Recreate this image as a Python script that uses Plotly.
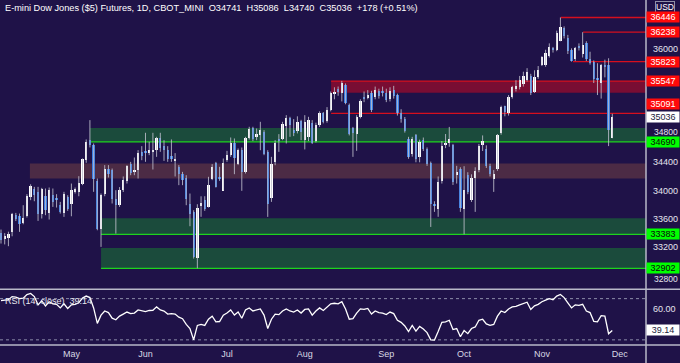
import plotly.graph_objects as go

# ---------------- data ----------------
opens = [
    33403, 33320, 33325, 33420, 33653, 33640, 33545, 33640, 33912, 34016,
    33983, 33667, 33921, 33686, 33935, 33888, 33803, 33686, 33912, 33818,
    33978, 33983, 34091, 34430, 34713, 34642, 34138, 33464, 33959, 34312,
    34289, 33888, 33794, 34006, 34138, 34374, 34270, 34298, 34548, 34557,
    34534, 34540, 34572, 34746, 34628, 34581, 34478, 34420, 34336, 34242,
    34185, 33818, 33700, 33054, 33780, 33865, 33770, 34171, 34393, 34185,
    34001, 34430, 34501, 34666, 34383, 34581, 34265, 34737, 34878, 34760,
    34784, 34831, 34548, 33902, 34407, 34722, 34736, 34911, 35033, 34845,
    34845, 34986, 34713, 34751, 34958, 34698, 34925, 35090, 34986, 35146,
    35373, 35430, 35373, 35491, 35208, 34878, 34798, 35043, 35316, 35302,
    35382, 35316, 35410, 35396, 35382, 35288, 35420, 35349, 35090, 35005,
    34736, 34524, 34784, 34477, 34722, 34595, 34393, 33808, 33747, 34138,
    34640, 34666, 34642, 34218, 34312, 33737, 34218, 33865, 34185, 34289,
    34650, 34595, 34345, 34171, 34300, 34808, 35194, 35091, 35326, 35430,
    35458, 35505, 35562, 35618, 35397, 35600, 35774, 35774, 35901, 36010,
    35986, 36118, 36292, 36151, 35986, 35854, 36043, 35929, 36090, 35854,
    35821, 35585, 35524, 35774, 35774, 34741,
]
highs = [
    33450, 33400, 33420, 33685, 33685, 33676, 33794, 33950, 34090, 34053,
    34053, 34039, 34030, 34044, 34030, 33950, 33841, 33983, 33935, 34100,
    34044, 34204, 34454, 34723, 34996, 34666, 34171, 33959, 34360, 34360,
    34312, 34006, 34050, 34200, 34360, 34406, 34468, 34572, 34628, 34817,
    34690, 34817, 34760, 34817, 34713, 34628, 34723, 34530, 34360, 34265,
    34218, 33959, 33723, 33808, 33920, 33921, 34195, 34374, 34406, 34336,
    34454, 34562, 34751, 34737, 34595, 34609, 34760, 34902, 34902, 34878,
    34972, 34854, 34571, 34477, 34713, 34798, 34972, 35066, 35043, 35010,
    35050, 35000, 35066, 35043, 34996, 34960, 35120, 35110, 35180, 35400,
    35460, 35470, 35550, 35514, 35230, 34900, 35066, 35290, 35400, 35420,
    35410, 35470, 35440, 35470, 35440, 35460, 35480, 35370, 35150, 35040,
    34760, 34760, 34800, 34720, 34750, 34610, 34410, 33850, 34200, 34700,
    34800, 34900, 34660, 34350, 34330, 34345, 34260, 34230, 34330, 34660,
    34780, 34640, 34380, 34290, 34800, 35200, 35200, 35350, 35480, 35560,
    35620, 35680, 35730, 35650, 35700, 35760, 35900, 35990, 36080, 36030,
    36260, 36446, 36320, 36200, 36010, 36030, 36080, 36238, 36110, 35962,
    35840, 35800, 35790, 35850, 35870, 35086,
]
lows = [
    33252, 33240, 33215, 33355, 33570, 33417, 33525, 33620, 33865, 33850,
    33572, 33606, 33653, 33592, 33770, 33761, 33676, 33629, 33714, 33638,
    33959, 33921, 34077, 34393, 34610, 33983, 33440, 33205, 33921, 34185,
    33818, 33393, 33770, 33980, 34100, 34218, 34218, 34171, 34430, 34407,
    34501, 34298, 34477, 34548, 34420, 34407, 34407, 34200, 34077, 34077,
    33794, 33497, 33040, 32902, 33630, 33714, 33761, 34148, 34044, 34138,
    34001, 34407, 34477, 34232, 34360, 33997, 34242, 34722, 34700, 34713,
    34571, 34501, 33629, 33841, 34359, 34548, 34713, 34666, 34760, 34770,
    34808, 34713, 34582, 34700, 34660, 34680, 34900, 34950, 34960, 35120,
    35290, 35340, 35260, 35220, 34780, 34477, 34562, 35020, 35250, 35290,
    35110, 35290, 35300, 35330, 35250, 35260, 35300, 35060, 34960, 34820,
    34450, 34480, 34400, 34400, 34560, 34350, 33487, 33700, 33630, 34100,
    34600, 34620, 34080, 34100, 33700, 33383, 33950, 33840, 33700, 34260,
    34560, 34320, 34200, 33982, 34280, 34790, 35050, 35060, 35300, 35400,
    35430, 35470, 35540, 35350, 35380, 35580, 35760, 35750, 35880, 35950,
    35970, 36110, 36150, 35930, 35823, 35830, 35980, 35880, 35830, 35780,
    35520, 35350, 35300, 35600, 34629, 34740,
]
closes = [
    33299, 33360, 33385, 33667, 33606, 33535, 33620, 33921, 34063, 33936,
    33676, 34016, 33723, 34006, 33841, 33865, 33700, 33959, 33738, 34006,
    34020, 34110, 34440, 34690, 34642, 34171, 33464, 33936, 34312, 34242,
    33888, 33794, 34006, 34157, 34345, 34251, 34290, 34534, 34487, 34525,
    34581, 34580, 34737, 34609, 34581, 34440, 34450, 34440, 34228, 34148,
    33888, 33667, 33063, 33761, 33830, 33747, 34086, 34327, 34053, 34160,
    34393, 34501, 34666, 34454, 34581, 34265, 34737, 34864, 34736, 34798,
    34854, 34524, 33817, 34383, 34675, 34703, 34939, 35033, 34925, 34817,
    34972, 34831, 34972, 34996, 34675, 34925, 35090, 34972, 35146, 35382,
    35396, 35396, 35524, 35241, 34798, 34808, 35043, 35269, 35288, 35349,
    35137, 35420, 35335, 35373, 35278, 35410, 35335, 35090, 35005, 34845,
    34477, 34736, 34440, 34689, 34595, 34383, 33817, 33790, 34124, 34628,
    34675, 34736, 34124, 34265, 33760, 34015, 33982, 34185, 34275, 34628,
    34700, 34345, 34242, 34242, 34780, 35175, 35114, 35326, 35458, 35477,
    35562, 35618, 35680, 35373, 35609, 35703, 35882, 35948, 36034, 35986,
    36231, 36307, 36184, 35977, 35830, 36010, 36024, 36057, 35854, 35798,
    35571, 35562, 35774, 35750, 34858, 35036,
]
rsi = [
    68, 68.5, 69, 72, 71.5, 70, 70.5, 74, 75, 72,
    64, 68, 63, 67, 65, 64.5, 61, 65, 60.5, 64,
    64.5, 66, 70.5, 72.5, 71, 61, 46, 54, 58, 56.5,
    51, 49.5, 53, 55, 57, 55.5, 56, 59, 58, 57.5,
    58.5, 58.7, 62, 59, 58, 55, 55.5, 55, 52, 50.5,
    45, 41, 30, 44, 45, 44, 50, 53, 47.5, 47.8,
    54, 56, 59, 54, 57, 51, 59, 61, 58, 59,
    60, 54, 41, 50, 55, 54.5, 58, 60, 58, 57,
    59, 56, 59.5, 60, 54, 58, 61, 58.5, 61.5, 65,
    65.5, 65, 67, 60, 50, 50.5, 56, 60, 59.5, 60.5,
    55, 58, 56.5, 56, 54.5, 57, 55.5, 49, 47, 43.5,
    38, 44, 38.5, 43, 40.5, 37, 30, 29.8, 38, 47,
    47.5, 49, 40, 41, 33, 39, 36, 41, 42.5, 49,
    50, 45.5, 44, 45, 53, 58, 56.5, 60, 62, 62.5,
    64, 65.5, 66.5, 59.5, 63, 64.5, 67, 68.5, 70, 69,
    72.5, 74, 71, 66, 61, 64, 63.5, 64.5, 58, 56.5,
    48, 47.5, 53.5, 53, 36, 39.14,
]

month_labels = ["May", "Jun", "Jul", "Aug", "Sep", "Oct", "Nov", "Dec"]
month_bars = [19, 39, 61, 82, 104, 125, 146, 167]
# axis labels left visible beside the price tags
price_ticks = [33200, 33600, 34000, 34400, 36000]
edge_ticks = [(34800, 2), (32800, -3)]   # (value, label nudge in px)

# zones: (low, high, start bar)
green_zones = [(34690, 34883, 24), (33383, 33610, 27), (32902, 33190, 27)]
brown_zone = (34171, 34383, 7.8)
red_zone = (35382, 35547, 89.1)
red_lines = [(36446, 151.1), (36238, 157.1), (35823, 154.4), (35091, 89.1)]

# price tag labels: (text, value, bg, fg, yshift)
price_tags = [
    ("36446", 36446, "#ff0a0a", "#ffffff", 0),
    ("36238", 36238, "#ff0a0a", "#ffffff", 0),
    ("35823", 35823, "#ff0a0a", "#ffffff", 0),
    ("35547", 35547, "#ff0a0a", "#ffffff", 0),
    ("35091", 35091, "#ff0a0a", "#ffffff", 9),
    ("35036", 35036, "#ffffff", "#1a1a3a", 0),
    ("34690", 34690, "#00ff00", "#0a0a0a", 0),
    ("33383", 33383, "#00ff00", "#0a0a0a", 0),
    ("32902", 32902, "#00ff00", "#0a0a0a", 0),
]
title_text = "E-mini Dow Jones ($5) Futures, 1D, CBOT_MINI  O34741  H35086  L34740  C35036  +178 (+0.51%)"

# ---------------- styling ----------------
BG = "#1f1248"
FONT = "Liberation Sans"
XMIN, XMAX = -0.27, 174.1
PMIN, PMAX = 32606, 36693
RMIN, RMAX = 25.0, 77.9
TICKC = "#e4e4ee"

n = len(closes)
idx = list(range(n))

fig = go.Figure()

# wicks
wx, wy = [], []
for i in idx:
    wx += [i, i, None]
    wy += [lows[i], highs[i], None]
fig.add_trace(go.Scatter(x=wx, y=wy, mode="lines",
                         line=dict(color="rgba(190,190,205,0.85)", width=1),
                         hoverinfo="skip", showlegend=False, xaxis="x", yaxis="y"))

up = [i for i in idx if closes[i] >= opens[i]]
dn = [i for i in idx if closes[i] < opens[i]]
fig.add_trace(go.Bar(x=up, base=[opens[i] for i in up],
                     y=[closes[i] - opens[i] for i in up],
                     width=0.62, marker=dict(color="#ffffff", line=dict(width=0)),
                     showlegend=False, xaxis="x", yaxis="y"))
fig.add_trace(go.Bar(x=dn, base=[opens[i] for i in dn],
                     y=[closes[i] - opens[i] for i in dn],
                     width=0.62, marker=dict(color="#3d7fe3", line=dict(width=0)),
                     showlegend=False, xaxis="x", yaxis="y"))

# RSI
fig.add_trace(go.Scatter(x=idx, y=rsi, mode="lines",
                         line=dict(color="#ffffff", width=1.3),
                         showlegend=False, xaxis="x", yaxis="y2"))

shapes = []
for lo, hi, start in green_zones:
    shapes.append(dict(type="rect", xref="x", yref="y", x0=start, x1=XMAX, y0=lo, y1=hi,
                       fillcolor="#1b4b3c", line=dict(width=0), layer="below"))
    shapes.append(dict(type="line", xref="x", yref="y", x0=start, x1=XMAX, y0=lo, y1=lo,
                       line=dict(color="#1ed41e", width=1.3), layer="below"))
shapes.append(dict(type="rect", xref="x", yref="y", x0=brown_zone[2], x1=XMAX,
                   y0=brown_zone[0], y1=brown_zone[1],
                   fillcolor="#4c2b45", line=dict(width=0), layer="below"))
shapes.append(dict(type="rect", xref="x", yref="y", x0=red_zone[2], x1=XMAX,
                   y0=red_zone[0], y1=red_zone[1],
                   fillcolor="#790d33", line=dict(width=0), layer="below"))
shapes.append(dict(type="line", xref="x", yref="y", x0=red_zone[2], x1=XMAX,
                   y0=red_zone[1], y1=red_zone[1],
                   line=dict(color="#d50f1e", width=1.3), layer="below"))
for lvl, start in red_lines:
    shapes.append(dict(type="line", xref="x", yref="y", x0=start, x1=XMAX, y0=lvl, y1=lvl,
                       line=dict(color="#d50f1e", width=1.3), layer="below"))
for lvl in (70, 30):
    shapes.append(dict(type="line", xref="paper", yref="y2", x0=0, x1=1, y0=lvl, y1=lvl,
                       line=dict(color="#8c8ca8", width=1, dash="3px,3px"), layer="below"))
GRID = "#b8b8c8"
for yv in (1 - 289.3 / 345, 0.0):
    shapes.append(dict(type="line", xref="paper", yref="paper", x0=0, x1=680 / 646,
                       y0=yv, y1=yv, line=dict(color=GRID, width=1.5)))
shapes.append(dict(type="line", xref="paper", yref="paper", x0=1, x1=1,
                   y0=-18 / 345, y1=1, line=dict(color=GRID, width=1.5)))

annotations = []
annotations.append(dict(text=title_text, xref="paper", yref="paper", x=0.004, y=1 - 8.3 / 345,
                        xanchor="left", yanchor="middle", showarrow=False,
                        font=dict(family=FONT, size=9.2, color="#ffffff")))
annotations.append(dict(text="RSI (14, close)  39.14", xref="paper", yref="paper",
                        x=0.004, y=1 - 300.7 / 345, xanchor="left", yanchor="middle",
                        showarrow=False, font=dict(family=FONT, size=9, color="#e8e8f0")))
annotations.append(dict(text="USD", xref="paper", yref="paper", x=1 + 9 / 646, y=1 - 7.2 / 345,
                        xanchor="left", yanchor="middle", showarrow=False,
                        bordercolor="#9090a8", borderwidth=1, borderpad=0,
                        font=dict(family=FONT, size=8.5, color="#ffffff")))
for val, nudge in edge_ticks:
    annotations.append(dict(text=str(val), xref="paper", yref="y", x=1 + 6 / 646, y=val,
                            yshift=nudge, xanchor="left", yanchor="middle", showarrow=False,
                            font=dict(family=FONT, size=8.5, color=TICKC)))
for txt, val, bg, fg, ys in price_tags:
    annotations.append(dict(text=txt, xref="paper", yref="y", x=1, y=val, yshift=ys,
                            xanchor="left", yanchor="middle", showarrow=False,
                            bgcolor=bg, width=32, height=10, borderpad=0,
                            font=dict(family=FONT, size=9, color=fg)))
annotations.append(dict(text="39.14", xref="paper", yref="y2", x=1, y=rsi[-1],
                        xanchor="left", yanchor="middle", showarrow=False,
                        bgcolor="#ffffff", width=32, height=10, borderpad=0,
                        font=dict(family=FONT, size=9, color="#1a1a3a")))

fig.update_layout(
    width=680, height=363,
    margin=dict(l=0, r=34, t=0, b=18),
    paper_bgcolor=BG, plot_bgcolor=BG,
    barmode="overlay", bargap=0,
    showlegend=False,
    shapes=shapes, annotations=annotations,
    xaxis=dict(range=[XMIN, XMAX], domain=[0, 1], anchor="y2",
               tickvals=month_bars, ticktext=month_labels, ticks="",
               showgrid=False, zeroline=False, showline=False, automargin=False,
               ticklabelstandoff=2,
               tickfont=dict(family=FONT, size=9, color="#d8d8e4")),
    yaxis=dict(range=[PMIN, PMAX], domain=[1 - 289.3 / 345, 1], anchor="x", side="right",
               tickvals=price_ticks, ticktext=[str(v) for v in price_ticks], ticks="",
               showgrid=False, zeroline=False, showline=False, automargin=False,
               ticklabelstandoff=6,
               tickfont=dict(family=FONT, size=9, color=TICKC)),
    yaxis2=dict(range=[RMIN, RMAX], domain=[0, 1 - 290.5 / 345], anchor="x", side="right",
                tickvals=[60], ticktext=["60.00"], ticks="",
                showgrid=False, zeroline=False, showline=False, automargin=False,
                ticklabelstandoff=6,
                tickfont=dict(family=FONT, size=9, color=TICKC)),
)

fig.write_html("out.html", config={"displayModeBar": False},
               post_script="document.body.style.margin='0';document.body.style.background='" + BG + "';")
